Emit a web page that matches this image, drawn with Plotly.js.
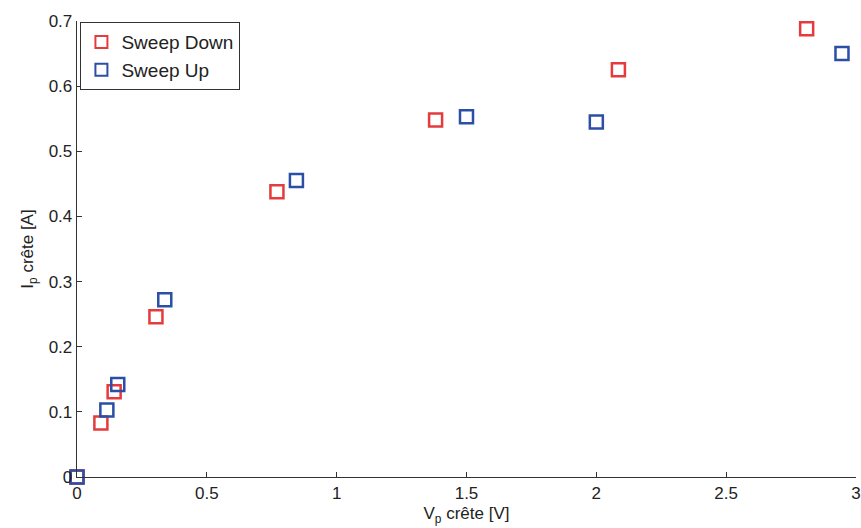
<!DOCTYPE html>
<html>
<head>
<meta charset="utf-8">
<script src="https://cdn.plot.ly/plotly-3.0.1.min.js"></script>
<style>html,body{margin:0;padding:0;background:#fff;}#chart{width:861px;height:528px;}</style>
</head>
<body>
<div id="chart"></div>
<script>
const downV = [0, 0.092, 0.143, 0.304, 0.77, 1.381, 2.085, 2.81];
const downI = [0, 0.083, 0.131, 0.246, 0.438, 0.548, 0.625, 0.688];
const upV = [0, 0.115, 0.157, 0.338, 0.845, 1.5, 2.0, 2.946];
const upI = [0, 0.103, 0.142, 0.272, 0.455, 0.553, 0.545, 0.650];
const xTicks = [0, 0.5, 1, 1.5, 2, 2.5, 3];
const xTickText = ['0', '0.5', '1', '1.5', '2', '2.5', '3'];
const yTicks = [0, 0.1, 0.2, 0.3, 0.4, 0.5, 0.6, 0.7];
const yTickText = ['0', '0.1', '0.2', '0.3', '0.4', '0.5', '0.6', '0.7'];

const red = '#e53b3c';
const blue = '#2b4ea6';

const traces = [
  {x: downV, y: downI, name: 'Sweep Down', mode: 'markers', type: 'scatter', cliponaxis: false,
   marker: {symbol: 'square-open', size: 13, color: red, line: {width: 2.5, color: red}}},
  {x: upV, y: upI, name: 'Sweep Up', mode: 'markers', type: 'scatter', cliponaxis: false,
   marker: {symbol: 'square-open', size: 13, color: blue, line: {width: 2.5, color: blue}}}
];

const axisCommon = {
  showline: true, linecolor: '#333', linewidth: 1.3, mirror: false,
  ticks: 'inside', ticklen: 5, tickcolor: '#333', tickwidth: 1,
  showgrid: false, zeroline: false, ticklabeloverflow: 'allow',
  tickfont: {family: 'Liberation Sans, Arial, sans-serif', size: 17, color: '#222'}
};

const layout = {
  width: 861, height: 528,
  margin: {l: 77, r: 5, t: 21, b: 51},
  paper_bgcolor: '#fff', plot_bgcolor: '#fff',
  font: {family: 'Liberation Sans, Arial, sans-serif', color: '#222'},
  showlegend: true,
  legend: {
    x: 0.004, y: 0.998, xanchor: 'left', yanchor: 'top',
    bordercolor: '#333', borderwidth: 1.3, bgcolor: '#fff',
    font: {size: 19, color: '#222'}, tracegroupgap: 0, itemsizing: 'constant'
  },
  xaxis: Object.assign({}, axisCommon, {
    range: [0, 3], tickvals: xTicks, ticktext: xTickText,
    title: {text: 'V<sub>p</sub> crête [V]', font: {size: 17, color: '#222'}, standoff: 5}
  }),
  yaxis: Object.assign({}, axisCommon, {
    range: [0, 0.7], tickvals: yTicks, ticktext: yTickText,
    title: {text: 'I<sub>p</sub> crête [A]', font: {size: 17, color: '#222'}, standoff: 10}
  })
};

Plotly.newPlot('chart', traces, layout, {displayModeBar: false, staticPlot: true});
</script>
</body>
</html>
